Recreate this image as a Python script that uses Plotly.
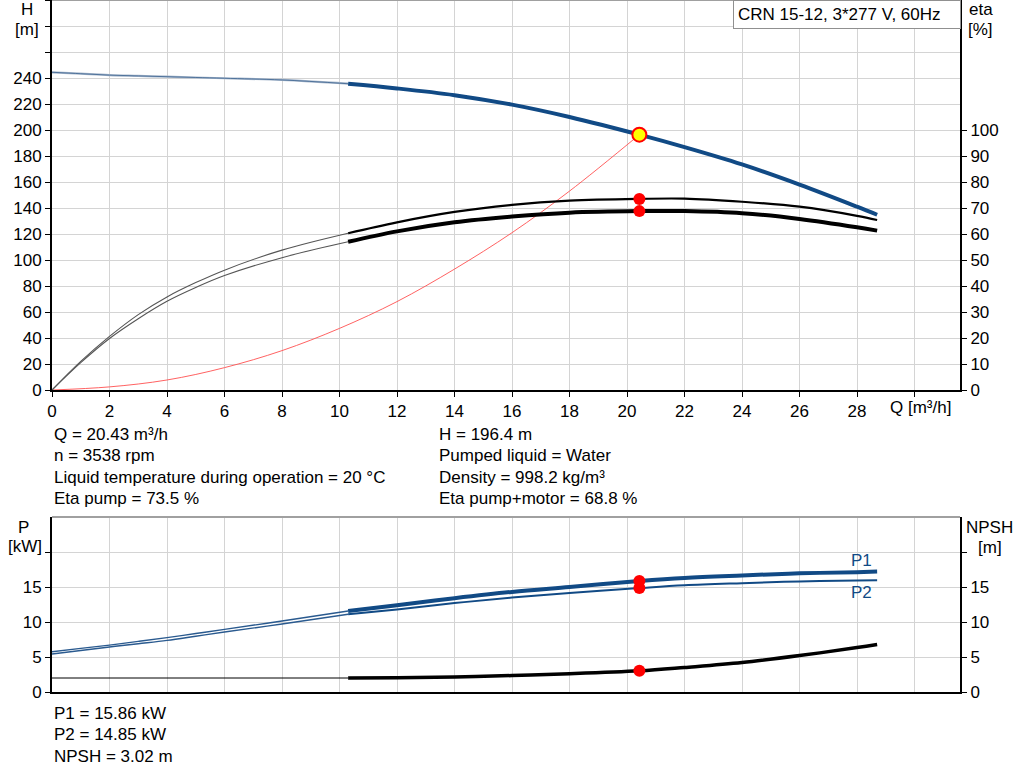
import plotly.graph_objects as go

# flow values, m3/h
q_thin = [0, 1, 2, 3, 4, 5, 6, 8, 10.3]
q_main = [10.3, 12, 14, 16, 18, 20.43, 22, 24, 26, 28, 28.7]

# head curve, m
h_thin = [244.4, 243.3, 242.2, 241.6, 241, 240.4, 239.8, 238.5, 235.6]
h_main = [235.6, 232, 226.8, 219.5, 210, 196.4, 186.8, 173.5, 158, 141, 134.8]

# efficiency curves, %
eta_pump_thin = [0, 11.0, 20.6, 29, 35.8, 41.3, 46.1, 53.8, 60.3]
eta_pump_main = [60.3, 64.5, 68.5, 71.2, 72.8, 73.5, 73.6, 72.4, 70.5, 67.0, 65.4]
eta_tot_thin = [0, 10.5, 19.8, 27.4, 34.1, 39.4, 44.0, 50.9, 57]
eta_tot_main = [57, 61, 64.5, 66.7, 68.2, 68.8, 68.8, 68, 65.8, 62.6, 61.3]

# system curve to duty point
q_sys = [0, 2, 4, 6, 8, 10, 12, 14, 16, 18, 20.43]
h_sys = [0, 2.4, 7.7, 17.2, 30.3, 47.4, 68, 93, 121, 153, 196.4]

# power curves, kW
p1_thin = [5.76, 6.23, 6.7, 7.23, 7.76, 8.35, 8.95, 10.14, 11.57]
p1_main = [11.57, 12.4, 13.4, 14.3, 15.0, 15.86, 16.3, 16.65, 16.95, 17.12, 17.2]
p2_thin = [5.43, 5.93, 6.43, 6.9, 7.38, 7.97, 8.57, 9.71, 11.1]
p2_main = [11.1, 11.8, 12.7, 13.5, 14.15, 14.85, 15.25, 15.55, 15.8, 15.93, 15.95]

# NPSH, m
q_npsh_thin = [0, 10.3]
npsh_thin = [2, 2]
npsh_main = [2.0, 2.05, 2.15, 2.35, 2.6, 3.02, 3.5, 4.2, 5.2, 6.35, 6.8]

# duty point
q_duty = 20.43
h_duty = 196.4
eta_duty = [73.5, 68.8]
p_duty = [15.86, 14.85]
npsh_duty = 3.02

x_ticks = list(range(0, 31, 2))
x_text = [str(v) for v in range(0, 29, 2)] + [""]
h_ticks = list(range(0, 301, 20))
h_text = [str(v) if v <= 240 else "" for v in h_ticks]
eta_ticks = list(range(0, 101, 10))
p_ticks = [0, 5, 10, 15, 20]
p_text = ["0", "5", "10", "15", ""]

info_left = ["Q = 20.43 m³/h", "n = 3538 rpm",
             "Liquid temperature during operation = 20 °C", "Eta pump = 73.5 %"]
info_right = ["H = 196.4 m", "Pumped liquid = Water",
              "Density = 998.2 kg/m³", "Eta pump+motor = 68.8 %"]
info_bottom = ["P1 = 15.86 kW", "P2 = 14.85 kW", "NPSH = 3.02 m"]

BLUE = "#114a85"
FAM = "Liberation Sans, Arial"
FS = 17
W, H = 1024, 781
L, R = 52, 960
H_PLOT = 771  # plot area height that actually ends up on screen


def px(x):
    return (x - L) / (R - L)


def py(y):
    return (H_PLOT - y) / H_PLOT


fig = go.Figure()

# top panel
fig.add_trace(go.Scatter(x=q_sys, y=h_sys, mode="lines", line=dict(color="#ff5050", width=0.9, shape="spline")))
fig.add_trace(go.Scatter(x=q_thin, y=h_thin, mode="lines", line=dict(color="#a9b9cd", width=2.2, shape="spline")))
fig.add_trace(go.Scatter(x=q_thin, y=h_thin, mode="lines", line=dict(color="#2a5585", width=0.7, shape="spline")))
fig.add_trace(go.Scatter(x=q_main, y=h_main, mode="lines", line=dict(color=BLUE, width=4, shape="spline")))
fig.add_trace(go.Scatter(x=q_thin, y=eta_pump_thin, yaxis="y2", mode="lines", line=dict(color="#555555", width=1.1, shape="spline")))
fig.add_trace(go.Scatter(x=q_thin, y=eta_tot_thin, yaxis="y2", mode="lines", line=dict(color="#555555", width=1.1, shape="spline")))
fig.add_trace(go.Scatter(x=q_main, y=eta_pump_main, yaxis="y2", mode="lines", line=dict(color="black", width=2.2, shape="spline")))
fig.add_trace(go.Scatter(x=q_main, y=eta_tot_main, yaxis="y2", mode="lines", line=dict(color="black", width=4, shape="spline")))
fig.add_trace(go.Scatter(x=[q_duty, q_duty], y=eta_duty, yaxis="y2", mode="markers",
                         marker=dict(color="#ff0000", size=12)))
fig.add_trace(go.Scatter(x=[q_duty], y=[h_duty], mode="markers",
                         marker=dict(color="#ffff00", size=14, line=dict(color="#ff0000", width=2))))

# bottom panel
fig.add_trace(go.Scatter(x=q_thin, y=p1_thin, xaxis="x2", yaxis="y3", mode="lines", line=dict(color="#2a5a8f", width=1.4, shape="spline")))
fig.add_trace(go.Scatter(x=q_thin, y=p2_thin, xaxis="x2", yaxis="y3", mode="lines", line=dict(color="#2a5a8f", width=1.4, shape="spline")))
fig.add_trace(go.Scatter(x=q_main, y=p1_main, xaxis="x2", yaxis="y3", mode="lines", line=dict(color=BLUE, width=4, shape="spline")))
fig.add_trace(go.Scatter(x=q_main, y=p2_main, xaxis="x2", yaxis="y3", mode="lines", line=dict(color=BLUE, width=2, shape="spline")))
fig.add_trace(go.Scatter(x=q_npsh_thin, y=npsh_thin, xaxis="x2", yaxis="y4", mode="lines", line=dict(color="black", width=1)))
fig.add_trace(go.Scatter(x=q_main, y=npsh_main, xaxis="x2", yaxis="y4", mode="lines", line=dict(color="black", width=3.5, shape="spline")))
fig.add_trace(go.Scatter(x=[q_duty, q_duty], y=p_duty, xaxis="x2", yaxis="y3", mode="markers",
                         marker=dict(color="#ff0000", size=12)))
fig.add_trace(go.Scatter(x=[q_duty], y=[npsh_duty], xaxis="x2", yaxis="y4", mode="markers",
                         marker=dict(color="#ff0000", size=12)))

grid = "#d4d4d4"
font = dict(family=FAM, size=FS, color="black")
xr = [0, (R - L) / 28.75]
top_dom = [py(390), 1]
bot_dom = [py(692), py(517)]
ax = dict(ticks="outside", ticklen=5, tickcolor="black", showline=True, linecolor="black",
          linewidth=2, zeroline=False, tickfont=font)

fig.update_layout(
    width=W, height=H, autosize=False,
    margin=dict(l=L, r=W - R, t=0, b=0),
    paper_bgcolor="white", plot_bgcolor="white",
    showlegend=False, font=font,
    xaxis=dict(domain=[0, 1], anchor="y", range=xr, tickvals=x_ticks, ticktext=x_text,
               showgrid=True, gridcolor=grid, **ax),
    yaxis=dict(domain=top_dom, anchor="x", range=[0, 300], tickvals=h_ticks, ticktext=h_text,
               showgrid=True, gridcolor=grid, **ax),
    yaxis2=dict(overlaying="y", side="right", anchor="x", range=[0, 150], tickvals=eta_ticks,
                showgrid=False, **ax),
    xaxis2=dict(domain=[0, 1], anchor="y3", range=xr, tickvals=x_ticks, showticklabels=False,
                showline=True, linecolor="black", linewidth=2, showgrid=True, gridcolor=grid,
                zeroline=False),
    yaxis3=dict(domain=bot_dom, anchor="x2", range=[0, 25], tickvals=p_ticks, ticktext=p_text,
                showgrid=True, gridcolor=grid, **ax),
    yaxis4=dict(overlaying="y3", side="right", anchor="x2", range=[0, 25], tickvals=p_ticks,
                ticktext=p_text, showgrid=False, **ax),
)

# gray top borders of both panels
fig.add_shape(type="line", xref="paper", yref="paper", x0=0, x1=1, y0=1, y1=1,
              line=dict(color="#a0a0a0", width=2))
fig.add_shape(type="line", xref="paper", yref="paper", x0=0, x1=1, y0=bot_dom[1], y1=bot_dom[1],
              line=dict(color="#a0a0a0", width=2))


def note(text, x, y, xanchor="left", color="black"):
    fig.add_annotation(text=text, x=px(x), y=py(y), xref="paper", yref="paper",
                       xanchor=xanchor, yanchor="middle", showarrow=False,
                       font=dict(family=FAM, size=FS, color=color))


note("H", 27, 10, "center")
note("[m]", 27, 30, "center")
note("eta", 981, 10, "center")
note("[%]", 981, 30, "center")
note("P", 23, 527, "center")
note("[kW]", 25, 547, "center")
note("NPSH", 990, 527, "center")
note("[m]", 990, 548, "center")
note("Q [m³/h]", 888, 407)
note("P1", 861, 560, "center", color=BLUE)
note("P2", 861, 592, "center", color=BLUE)

for i, t in enumerate(info_left):
    note(t, 52, 434 + 21.5 * i)
for i, t in enumerate(info_right):
    note(t, 437, 434 + 21.5 * i)
for i, t in enumerate(info_bottom):
    note(t, 52, 713 + 21.5 * i)

fig.add_annotation(text="CRN 15-12, 3*277 V, 60Hz", x=px(733), y=1, xref="paper", yref="paper",
                   xanchor="left", yanchor="top", showarrow=False, bgcolor="white",
                   bordercolor="#909090", borderwidth=1, borderpad=4,
                   font=dict(family=FAM, size=FS, color="black"),
                   width=218, align="left")

fig.write_html("out.html", config={"displayModeBar": False, "responsive": False},
               post_script="document.body.style.margin='0px';")
